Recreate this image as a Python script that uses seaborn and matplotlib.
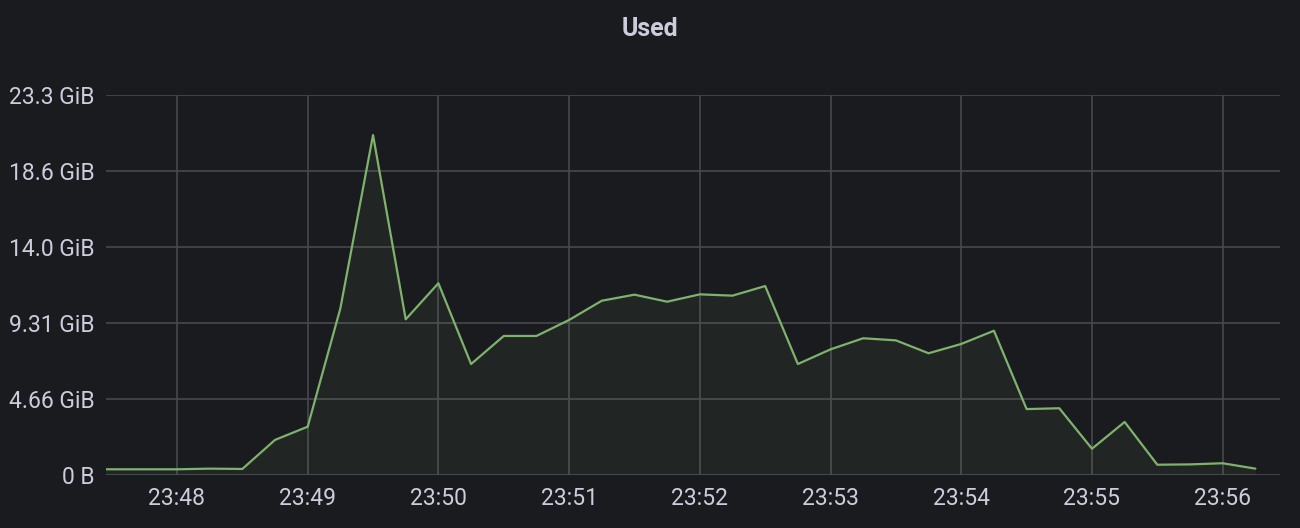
import numpy as np
import pandas as pd
import matplotlib
matplotlib.use("Agg")
import matplotlib.pyplot as plt
import matplotlib.dates as mdates
from matplotlib.ticker import FuncFormatter
import seaborn as sns

# memory used, GiB, one sample every 15 s starting 23:47:15
start = "2024-01-01 23:47:15"
used_gib = [0.33, 0.33, 0.33, 0.33, 0.37, 0.35, 2.13, 2.94, 10.19, 20.81,
            9.52, 11.73, 6.78, 8.50, 8.50, 9.48, 10.66, 11.03, 10.60, 11.05,
            10.97, 11.56, 6.78, 7.68, 8.36, 8.23, 7.44, 8.01, 8.82, 4.02,
            4.07, 1.59, 3.23, 0.61, 0.63, 0.70, 0.37]
ytick_bytes = [0, 5e9, 10e9, 15e9, 20e9, 25e9]

times = pd.date_range(start, periods=len(used_gib), freq="15s")
df = pd.DataFrame({"time": times, "used": used_gib})

bg = "#1a1b1f"
txt = "#ccccdc"
green = "#7eb26d"
gridc = "#47484d"

sns.set_theme(style="dark")
plt.rcParams["font.family"] = ["Roboto", "DejaVu Sans"]

fig = plt.figure(figsize=(13, 5.28), dpi=100, facecolor=bg)
ax = fig.add_axes([0.0815, 0.101, 0.9031, 0.7196])
ax.set_facecolor(bg)

ax.fill_between(df["time"], df["used"], 0, color=green, alpha=0.08, linewidth=0)
sns.lineplot(data=df, x="time", y="used", ax=ax, color=green, linewidth=1.6)

ax.set_xlim(pd.Timestamp("2024-01-01 23:47:27.4"), pd.Timestamp("2024-01-01 23:56:26.3"))
yt = [b / 2**30 for b in ytick_bytes]
ax.set_ylim(0, yt[-1])
ax.set_yticks(yt)


def fmt_gib(v, pos):
    if v == 0:
        return "0 B"
    if v >= 10:
        return f"{v:.1f} GiB"
    return f"{v:.2f} GiB"


ax.yaxis.set_major_formatter(FuncFormatter(fmt_gib))
ax.xaxis.set_major_locator(mdates.MinuteLocator())
ax.xaxis.set_major_formatter(mdates.DateFormatter("%H:%M"))

ax.grid(True, color=gridc, linewidth=1.2)
ax.set_axisbelow(True)
for s in ax.spines.values():
    s.set_visible(False)
ax.tick_params(colors=txt, labelsize=16.5, length=0)
ax.tick_params(axis="y", pad=8)
ax.tick_params(axis="x", pad=9)
ax.set_xlabel("")
ax.set_ylabel("")

fig.text(0.5, 0.945, "Used", ha="center", va="center", color=txt,
         fontsize=18, fontweight="bold")

fig.savefig("out.png", dpi=100, facecolor=bg)
